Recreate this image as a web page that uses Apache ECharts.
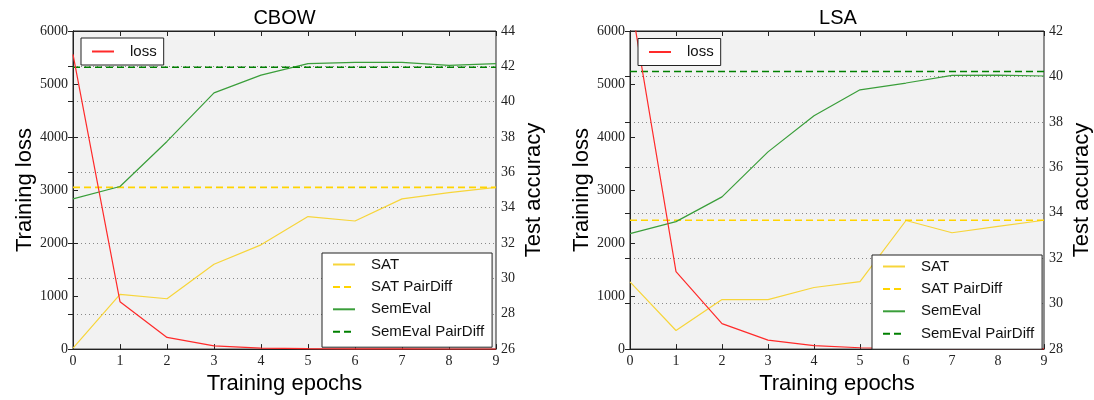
<!DOCTYPE html>
<html><head><meta charset="utf-8">
<script src="https://cdn.jsdelivr.net/npm/echarts@6/dist/echarts.min.js"></script>
<style>html,body{margin:0;padding:0;background:#fff}#c{width:1094px;height:400px}</style>
</head><body><div id="c"></div>
<script>
// ---- data ----
const epochs = [0, 1, 2, 3, 4, 5, 6, 7, 8, 9];

const cbowLoss = [5560, 895, 220, 62, 20, 8, 5, 3, 2, 2];
const cbowSAT = [26.05, 29.1, 28.85, 30.8, 31.9, 33.5, 33.25, 34.5, 34.85, 35.15];
const cbowSemEval = [34.5, 35.2, 37.75, 40.5, 41.5, 42.15, 42.22, 42.22, 42.05, 42.15];
const cbowSATPairDiff = 35.15;
const cbowSemEvalPairDiff = 41.95;

const lsaLoss = [6650, 1460, 480, 170, 65, 25, 12, 6, 4, 3];
const lsaSAT = [30.96, 28.82, 30.18, 30.18, 30.71, 30.97, 33.66, 33.12, 33.4, 33.67];
const lsaSemEval = [33.08, 33.61, 34.7, 36.68, 38.27, 39.41, 39.71, 40.05, 40.06, 40.02];
const lsaSATPairDiff = 33.67;
const lsaSemEvalPairDiff = 40.22;

const titles = ['CBOW', 'LSA'];
const lossRange = [0, 6000, 1000];
const cbowAccRange = [26, 44, 2];
const lsaAccRange = [28, 42, 2];

// ---- styling ----
const SERIF = 'Liberation Serif';
const SANS = 'Liberation Sans';
const C_LOSS = '#ff2a2a';
const C_SAT = '#f7d53a';
const C_SATD = '#ffd400';
const C_SEM = '#3a9e3a';
const C_SEMD = '#008000';
const DASH = [7, 4];

const grids = [
  {left: 73, top: 31, width: 423, height: 320},
  {left: 630, top: 31, width: 416, height: 320}
];

function pts(ys) { return epochs.map((e, k) => [e, ys[k]]); }
function flat(v) { return [[epochs[0], v], [epochs[epochs.length - 1], v]]; }

const tickStyle = {inside: true, length: 5, lineStyle: {color: '#222'}};
const lineAx = {show: true, lineStyle: {color: '#222', width: 1}};
const plainNum = v => String(v);

const xAxis = [], yAxis = [], series = [];
const accRanges = [cbowAccRange, lsaAccRange];
const yNameGapL = [34, 37];
grids.forEach((g, i) => {
  xAxis.push({
    gridIndex: i, type: 'value', min: epochs[0], max: epochs[epochs.length - 1], interval: 1,
    position: 'bottom', axisLine: lineAx, axisTick: tickStyle,
    axisLabel: {fontFamily: SERIF, fontSize: 14, color: '#222', margin: 5, formatter: plainNum},
    splitLine: {show: false},
    name: 'Training epochs', nameLocation: 'middle', nameGap: 21,
    nameTextStyle: {fontFamily: SANS, fontSize: 22, color: '#000'}
  });
  xAxis.push({
    gridIndex: i, type: 'value', min: epochs[0], max: epochs[epochs.length - 1], interval: 1,
    position: 'top', axisLine: lineAx, axisTick: tickStyle,
    axisLabel: {show: false}, splitLine: {show: false}
  });
  yAxis.push({
    gridIndex: i, type: 'value', min: lossRange[0], max: lossRange[1], interval: lossRange[2],
    position: 'left', axisLine: lineAx, axisTick: tickStyle,
    axisLabel: {fontFamily: SERIF, fontSize: 14, color: '#222', margin: 5, formatter: plainNum},
    splitLine: {show: false},
    name: 'Training loss', nameLocation: 'middle', nameGap: yNameGapL[i], nameRotate: 90,
    nameTextStyle: {fontFamily: SANS, fontSize: 22, color: '#000'}
  });
  const r = accRanges[i];
  yAxis.push({
    gridIndex: i, type: 'value', min: r[0], max: r[1], interval: r[2],
    position: 'right', axisLine: lineAx, axisTick: tickStyle,
    axisLabel: {fontFamily: SERIF, fontSize: 14, color: '#222', margin: 5, formatter: plainNum},
    splitLine: {show: true, lineStyle: {type: [1, 3], color: '#888', width: 1}},
    name: 'Test accuracy', nameLocation: 'middle', nameGap: 27, nameRotate: 90,
    nameTextStyle: {fontFamily: SANS, fontSize: 22, color: '#000'}
  });
});

const sets = [
  {loss: cbowLoss, sat: cbowSAT, sem: cbowSemEval, satD: cbowSATPairDiff, semD: cbowSemEvalPairDiff},
  {loss: lsaLoss, sat: lsaSAT, sem: lsaSemEval, satD: lsaSATPairDiff, semD: lsaSemEvalPairDiff}
];
function mk(name, data, xi, yi, color, width, type, z, clip) {
  return {
    name, type: 'line', data, xAxisIndex: xi, yAxisIndex: yi,
    symbol: 'none', showSymbol: false, clip: clip !== false, z: z || 2,
    lineStyle: {color, width, type: type || 'solid'},
    itemStyle: {color}, emphasis: {disabled: true}
  };
}
sets.forEach((s, i) => {
  const xi = i * 2, yl = i * 2, yr = i * 2 + 1;
  // CBOW loss stays inside the axis range, so no clipping keeps its bottom run visible
  series.push(mk('loss', pts(s.loss), xi, yl, C_LOSS, 1.2, 'solid', 3, i === 0 ? false : true));
  series.push(mk('SAT', pts(s.sat), xi, yr, C_SAT, 1.2));
  series.push(mk('SAT PairDiff', flat(s.satD), xi, yr, C_SATD, 1.6, DASH));
  series.push(mk('SemEval', pts(s.sem), xi, yr, C_SEM, 1.2));
  series.push(mk('SemEval PairDiff', flat(s.semD), xi, yr, C_SEMD, 1.6, DASH));
});

const legBase = {
  orient: 'vertical', itemWidth: 22, itemHeight: 14, itemGap: 7.4,
  backgroundColor: '#fff', borderColor: '#222', borderWidth: 1, borderRadius: 0,
  itemStyle: {color: 'rgba(0,0,0,0)', borderWidth: 0, opacity: 0},
  textStyle: {fontFamily: SANS, fontSize: 15, color: '#111', padding: [0, 0, 0, 11]},
  selectedMode: false
};
const legend = [
  Object.assign({}, legBase, {data: ['loss'], left: 81, top: 38, padding: [6, 7, 6, 10]}),
  Object.assign({}, legBase, {data: ['SAT', 'SAT PairDiff', 'SemEval', 'SemEval PairDiff'], left: 322, top: 253, padding: [4, 8, 8, 10]}),
  Object.assign({}, legBase, {data: ['loss'], left: 638, top: 38.5, padding: [6, 7, 6, 10]}),
  Object.assign({}, legBase, {data: ['SAT', 'SAT PairDiff', 'SemEval', 'SemEval PairDiff'], left: 872, top: 255, padding: [4, 8, 8, 10]})
];

const graphic = titles.map((t, i) => ({
  type: 'text', x: grids[i].left + grids[i].width / 2, y: 18,
  style: {text: t, align: 'center', verticalAlign: 'middle', font: '20px "Liberation Sans"', fill: '#000'}
}));

const grid = grids.map(g => Object.assign({}, g, {
  show: true, backgroundColor: '#f2f2f2', borderColor: '#222', borderWidth: 1, containLabel: false
}));

const chart = echarts.init(document.getElementById('c'), null, {renderer: 'canvas'});
chart.setOption({
  animation: false,
  backgroundColor: '#fff',
  grid, xAxis, yAxis, series, legend, graphic
});
</script>
</body></html>
